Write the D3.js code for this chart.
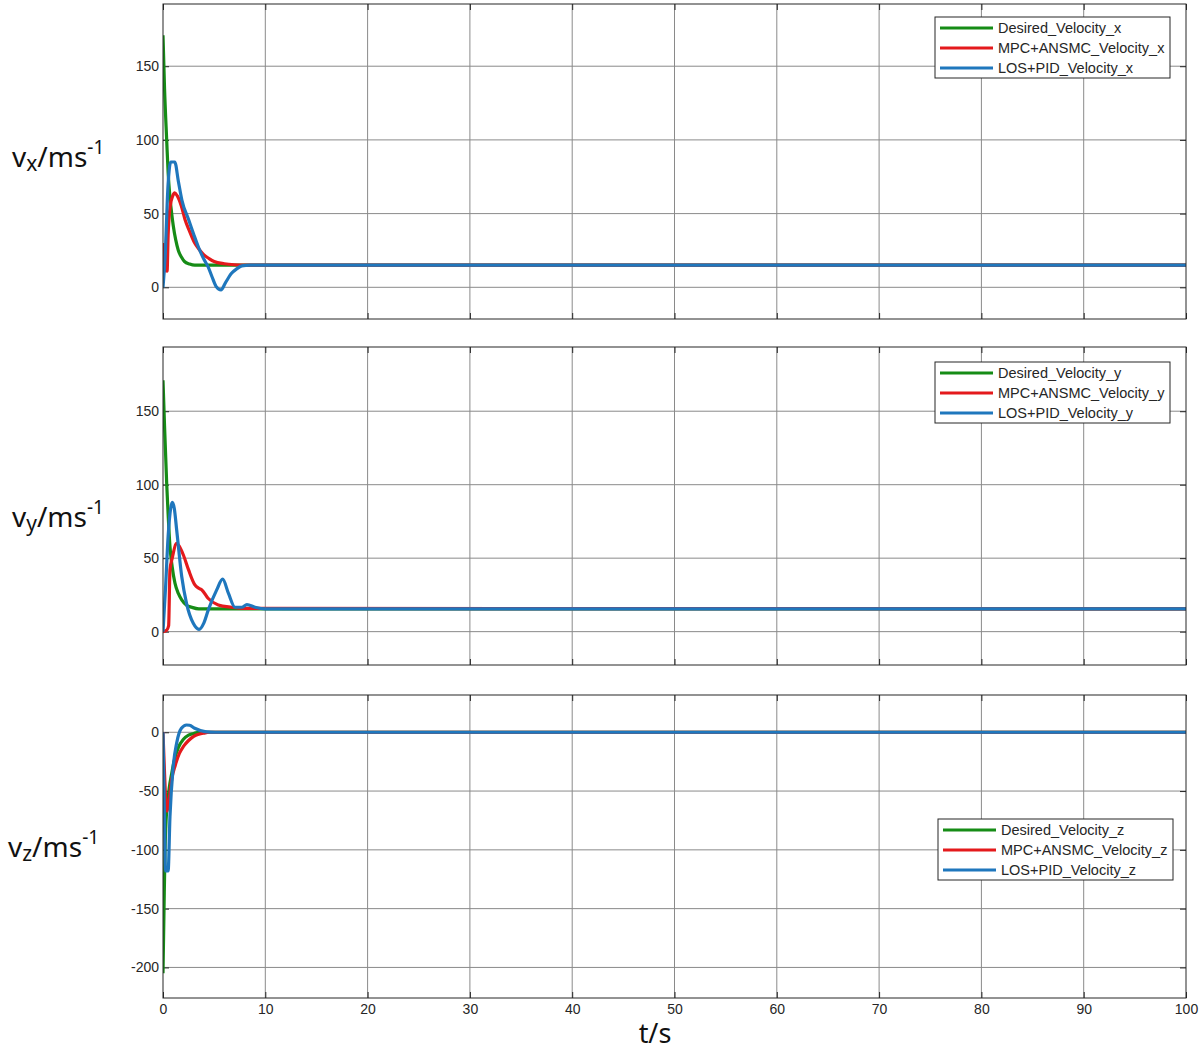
<!DOCTYPE html>
<html>
<head>
  <meta charset="utf-8">
  <title>Velocity response</title>
  <script src="https://d3js.org/d3.v7.min.js"></script>
  <style>
    body { margin: 0; background: #fff; }
    svg { display: block; }
    .tick text { font-family: "Liberation Sans", Arial, sans-serif; font-size: 14px; fill: #262626; }
    .leg text { font-family: "Liberation Sans", Arial, sans-serif; font-size: 14.5px; fill: #262626; }
    .ylab { font-family: "Noto Sans", "Open Sans", sans-serif; fill: #111; }
  </style>
</head>
<body>
  <svg width="1203" height="1052"></svg>

  <script>
    // time axis ticks
    const tTicks = [0, 10, 20, 30, 40, 50, 60, 70, 80, 90, 100];

    // [t, value]
    const vxDesired = [[0,171],[0.15,135],[0.36,100],[0.5,78],[0.68,61],[0.85,50],[1.0,42],[1.25,32],[1.5,25],[1.8,20.5],[2.1,17.5],[2.6,15.8],[3.1,15],[100,15]];
    const vxMpc = [[0,30],[0.1,12],[0.4,11],[0.5,35],[0.7,55],[0.95,62],[1.15,64],[1.4,62],[1.8,55],[2.15,46],[2.6,38],[3.1,30],[3.5,26],[4,22],[4.5,19.5],[5,17.5],[6,16],[7,15.3],[8,15],[100,15]];
    const vxLos = [[0,0],[0.2,20],[0.5,70],[0.75,85],[1.15,85],[1.5,72],[1.85,59],[2.5,46],[3,36],[3.45,27.5],[4,19],[4.4,14],[4.8,7],[5.2,0.5],[5.67,-1.8],[6.1,3],[6.7,9.5],[7.2,12.5],[7.7,14.5],[8.5,15],[100,15]];

    const vyDesired = [[0,171],[0.15,140],[0.36,101],[0.5,80],[0.68,58],[0.9,44],[1.17,33],[1.5,26],[1.83,21.6],[2.3,18],[2.8,16.6],[3.5,15.5],[100,15.5]];
    const vyMpc = [[0,0],[0.36,1],[0.55,4],[0.68,42],[0.9,50],[1.34,60],[1.6,58],[2.0,52],[2.5,42],[3.1,32],[3.5,29.5],[3.8,28.4],[4.4,22.7],[5.4,18.2],[6.7,16.6],[8,15.8],[100,15.5]];
    const vyLos = [[0,0],[0.25,30],[0.5,64.7],[0.75,84],[0.91,88],[1.1,84],[1.34,69],[1.83,37.5],[2.3,19.3],[2.96,5.7],[3.52,1.6],[4.0,6],[4.43,14.8],[5.25,28.4],[5.83,35.7],[6.4,26],[7.04,16.6],[7.7,16.6],[8.2,18.4],[9.0,16.6],[10,15.5],[100,15.5]];

    const vzDesired = [[0,-205],[0.1,-150],[0.2,-100],[0.3,-75],[0.45,-60],[0.6,-48],[0.85,-35],[1.1,-24],[1.5,-13],[2,-6],[2.5,-2.5],[3,-1],[3.5,0],[100,0]];
    const vzMpc = [[0,0],[0.15,-35],[0.3,-62],[0.4,-67],[0.55,-60],[0.85,-40],[1.2,-28],[1.6,-18],[2,-12],[2.5,-7],[3,-3.5],[3.5,-1.7],[4,-0.7],[4.5,0],[100,0]];
    const vzLos = [[0,0],[0.1,-50],[0.25,-118],[0.5,-118],[0.68,-72],[1.0,-29],[1.34,-9],[1.8,3.4],[2.3,6.2],[2.6,6],[3.1,3.4],[4.1,0.6],[5.1,0],[100,0]];

    const names = ["Desired_Velocity", "MPC+ANSMC_Velocity", "LOS+PID_Velocity"];
    const colors = ["#168c16", "#e41a1c", "#1f77bd"];

    const panels = [
      { axis: "x", series: [vxDesired, vxMpc, vxLos], domain: [-21.5, 192.2], ticks: [0, 50, 100, 150],
        top: 4, bottom: 319, legend: [935, 17], labelY: 167 },
      { axis: "y", series: [vyDesired, vyMpc, vyLos], domain: [-22.7, 193.7], ticks: [0, 50, 100, 150],
        top: 347, bottom: 665, legend: [935, 362], labelY: 527 },
      { axis: "z", series: [vzDesired, vzMpc, vzLos], domain: [-226, 31.7], ticks: [-200, -150, -100, -50, 0],
        top: 695, bottom: 998, legend: [938, 819], labelY: 857, labelX: 8 }
    ];

    const left = 163, right = 1186;
    const svg = d3.select("svg");
    const x = d3.scaleLinear().domain([0, 100]).range([left, right]);
    const fmt = d => String(d); // plain hyphen minus, as in the picture

    panels.forEach((p, i) => {
      const y = d3.scaleLinear().domain(p.domain).range([p.bottom, p.top]);
      const g = svg.append("g");

      g.append("clipPath").attr("id", "clip" + i)
        .append("rect").attr("x", left).attr("y", p.top).attr("width", right - left).attr("height", p.bottom - p.top);

      // grid
      g.selectAll(".vg").data(tTicks.slice(1, -1)).enter().append("line")
        .attr("x1", d => x(d)).attr("x2", d => x(d)).attr("y1", p.top).attr("y2", p.bottom)
        .attr("stroke", "#8a8a8a").attr("stroke-width", 1);
      g.selectAll(".hg").data(p.ticks).enter().append("line")
        .attr("x1", left).attr("x2", right).attr("y1", d => y(d)).attr("y2", d => y(d))
        .attr("stroke", "#8a8a8a").attr("stroke-width", 1);

      // axes, ticks inside
      const ax = g.append("g").attr("transform", `translate(${left},0)`)
        .call(d3.axisLeft(y).tickValues(p.ticks).tickSize(-6).tickPadding(4).tickFormat(fmt));
      ax.select(".domain").remove();
      const axr = g.append("g").attr("transform", `translate(${right},0)`)
        .call(d3.axisRight(y).tickValues(p.ticks).tickSize(-6).tickFormat(""));
      axr.select(".domain").remove();
      const axb = g.append("g").attr("transform", `translate(0,${p.bottom})`)
        .call(d3.axisBottom(x).tickValues(tTicks).tickSize(-6).tickPadding(6)
          .tickFormat(i === 2 ? fmt : ""));
      axb.select(".domain").remove();
      const axt = g.append("g").attr("transform", `translate(0,${p.top})`)
        .call(d3.axisTop(x).tickValues(tTicks).tickSize(-6).tickFormat(""));
      axt.select(".domain").remove();
      g.selectAll(".tick line").attr("stroke", "#262626");

      // curves
      const line = d3.line().x(d => x(d[0])).y(d => y(d[1])).curve(d3.curveMonotoneX);
      p.series.forEach((s, k) => {
        g.append("path").datum(s).attr("d", line)
          .attr("clip-path", `url(#clip${i})`)
          .attr("fill", "none").attr("stroke", colors[k]).attr("stroke-width", 3.2)
          .attr("stroke-linejoin", "round");
      });

      // box
      g.append("rect").attr("x", left).attr("y", p.top).attr("width", right - left).attr("height", p.bottom - p.top)
        .attr("fill", "none").attr("stroke", "#262626").attr("stroke-width", 1);

      // legend
      const lg = g.append("g").attr("class", "leg").attr("transform", `translate(${p.legend[0]},${p.legend[1]})`);
      lg.append("rect").attr("width", 235).attr("height", 61).attr("fill", "#fff").attr("stroke", "#262626");
      names.forEach((n, k) => {
        const yy = 11 + k * 20;
        lg.append("line").attr("x1", 5).attr("x2", 58).attr("y1", yy).attr("y2", yy)
          .attr("stroke", colors[k]).attr("stroke-width", 3);
        lg.append("text").attr("x", 63).attr("y", yy + 5).text(n + "_" + p.axis);
      });

      // y label
      const t = svg.append("text").attr("class", "ylab").attr("x", p.labelX || 12).attr("y", p.labelY).attr("font-size", 28);
      t.append("tspan").text("v");
      t.append("tspan").attr("font-size", 21).attr("dy", 4).text(p.axis);
      t.append("tspan").attr("dy", -4).text("/ms");
      t.append("tspan").attr("font-size", 19).attr("dy", -13).text("-1");
    });

    svg.append("text").attr("class", "ylab").attr("x", 655).attr("y", 1043)
      .attr("text-anchor", "middle").attr("font-size", 27).text("t/s");
  </script>
</body>
</html>
